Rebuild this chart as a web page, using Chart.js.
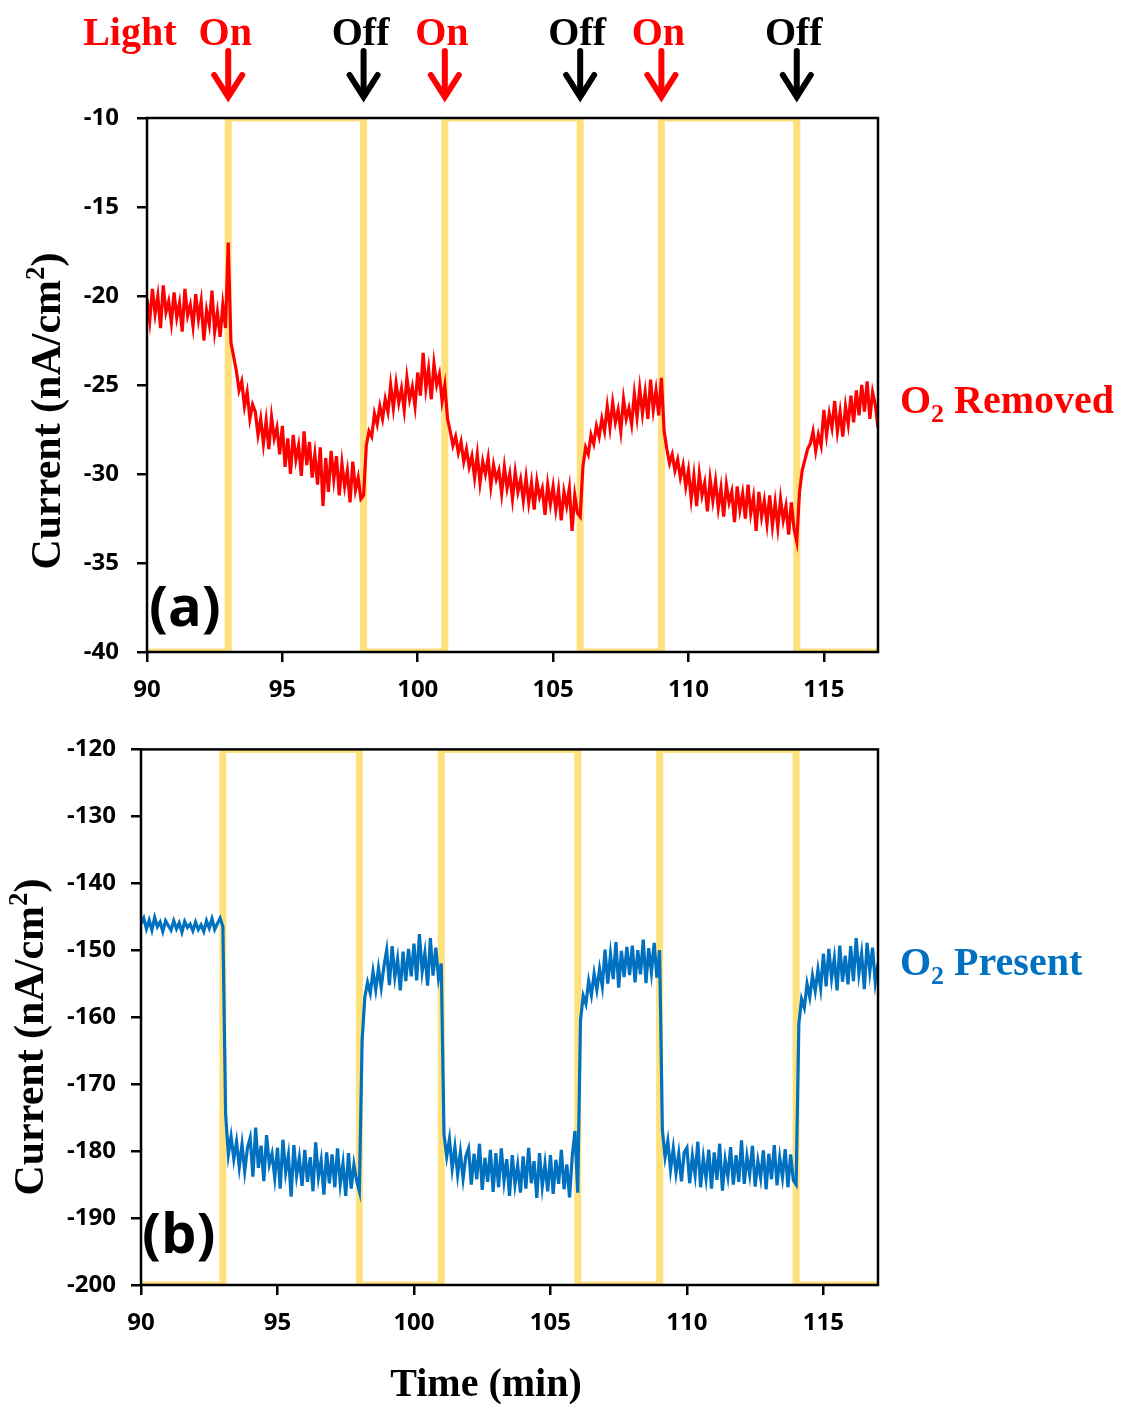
<!DOCTYPE html>
<html>
<head>
<meta charset="utf-8">
<title>Photocurrent - light on/off</title>
<script src="https://cdn.jsdelivr.net/npm/chart.js@4.4.1/dist/chart.umd.min.js"></script>
<style>
  html, body { margin: 0; padding: 0; background: #fff; }
  #wrap { position: relative; width: 1126px; height: 1404px; overflow: hidden; }
  #chartA { position: absolute; left: 0; top: 0; }
  #chartB { position: absolute; left: 0; top: 720px; }
</style>
</head>
<body>
<div id="wrap">
  <canvas id="chartA" width="1126" height="720"></canvas>
  <canvas id="chartB" width="1126" height="684"></canvas>
</div>
<script>
// ==================== DATA ====================
// current sampled every 0.1 min from 90 to 117 min (nA/cm2)
const redCurrent = [
  -20.2, -21.4, -19.6, -21.0, -20.0, -21.8, -19.4, -20.9, -20.3, -21.5,
  -19.8, -21.2, -20.4, -22.0, -19.6, -21.1, -20.5, -21.7, -19.9, -21.3,
  -20.3, -22.5, -20.8, -21.6, -19.7, -22.0, -20.9, -22.3, -20.5, -21.8,
  -17.0, -22.6, -23.4, -24.2, -25.3, -24.8, -26.2, -25.4, -26.9, -26.1,
  -26.5, -27.8, -26.9, -28.3, -27.0, -28.6, -26.8, -28.0, -27.4, -28.9,
  -27.3, -29.6, -28.0, -30.0, -27.8, -29.2, -28.4, -30.1, -27.6, -29.5,
  -28.2, -30.2, -28.9, -30.6, -28.5, -31.8, -29.1, -31.0, -28.7, -30.3,
  -29.0, -31.2, -29.4, -30.7, -29.8, -31.6, -29.3, -30.9, -30.2, -31.4,
  -31.2, -28.4, -27.6, -27.9, -26.6, -27.2, -26.2, -26.9, -25.8, -26.5,
  -25.0, -26.3, -24.9, -26.0, -25.2, -26.4, -24.6, -25.8, -25.1, -26.2,
  -24.3, -25.6, -23.2, -25.2, -24.1, -25.8, -23.8, -25.0, -24.4, -25.9,
  -25.0, -26.9, -27.6, -28.4, -27.9, -28.8, -28.2, -29.3, -28.6, -29.6,
  -29.0, -30.2, -28.9, -30.5, -29.3, -30.0, -29.1, -30.7, -29.5, -30.3,
  -29.8, -31.1, -29.6, -30.8, -30.0, -31.4, -29.9, -31.0, -30.3, -31.5,
  -30.2, -31.6, -30.5, -32.0, -30.4, -31.3, -30.8, -32.3, -30.6, -31.7,
  -30.7, -32.0, -30.9, -32.6, -31.0, -31.8, -30.8, -33.2, -31.2, -32.2,
  -32.4, -29.6, -28.5, -28.9, -27.8, -28.3, -27.3, -27.9, -26.9, -27.6,
  -26.2, -27.4, -26.0, -27.1, -26.4, -27.6, -25.8, -26.9, -26.3, -27.2,
  -25.5, -26.8, -25.2, -26.6, -25.4, -26.9, -24.7, -26.4, -25.3, -26.7,
  -24.6, -27.6, -28.6, -29.4, -28.9, -29.8, -29.2, -30.2, -29.5, -30.7,
  -29.8, -31.4, -30.1, -31.8, -30.0, -31.2, -30.5, -32.1, -30.3, -31.5,
  -30.4, -31.9, -30.8, -32.4, -30.6, -31.6, -31.0, -32.7, -30.7, -32.0,
  -31.1, -32.5, -30.6, -32.2, -31.3, -33.2, -31.0, -32.4, -31.5, -32.8,
  -31.2, -32.9, -31.6, -33.0, -31.4, -32.6, -31.8, -33.4, -31.6, -33.1,
  -33.8, -31.0, -29.8, -29.2, -28.6, -28.3, -27.6, -28.7, -27.8, -28.4,
  -26.4, -27.8, -26.6, -27.4, -25.9, -27.6, -26.5, -27.9, -26.2, -27.2,
  -25.6, -27.1, -25.3, -26.7, -25.0, -26.5, -24.8, -26.9, -25.4, -26.1,
  -27.4
];

const blueCurrent = [
  -146.0, -145.2, -146.8, -145.5, -147.0, -145.1, -146.5, -145.8, -147.2, -145.6,
  -146.3, -147.0, -145.6, -146.8, -145.9, -147.3, -145.7, -146.6, -146.1, -147.1,
  -145.8, -146.9, -146.2, -147.2, -145.6, -146.7, -145.3, -146.9, -146.0, -145.2,
  -146.5, -174.5, -180.5, -177.8, -181.2, -178.6, -182.4, -179.0, -183.0, -179.5,
  -178.0, -183.8, -176.5, -182.5, -179.2, -184.5, -177.6, -182.0, -180.4, -184.0,
  -179.5, -185.6, -178.3, -183.2, -180.6, -186.8, -179.1, -183.7, -181.0, -185.2,
  -179.8, -184.6, -180.9, -186.0, -178.7, -183.9, -181.4, -186.5, -180.2, -184.8,
  -180.5, -185.4, -179.6, -184.9, -181.8, -186.7, -180.3, -185.6, -182.0, -184.4,
  -186.0, -163.5, -157.0, -154.8, -156.4, -153.2, -155.9, -152.7, -155.6, -152.4,
  -150.0, -155.2, -149.4, -154.0, -151.3, -156.0, -150.2, -154.6, -149.8, -153.9,
  -149.0, -154.5, -147.6, -153.2, -150.4, -155.3, -148.2, -153.8, -149.6, -154.2,
  -152.0, -177.5, -180.8, -178.2, -182.6, -179.4, -183.5, -180.2, -184.1, -180.8,
  -179.6, -185.0, -180.4, -184.2, -178.9, -185.8, -181.0, -184.6, -179.8, -186.1,
  -180.3, -185.4, -179.6, -184.5, -181.2, -186.7, -180.6, -185.0, -182.1, -186.2,
  -180.8, -185.6, -179.5, -184.8, -181.5, -187.0, -180.3, -185.3, -181.9, -186.0,
  -180.6, -186.4, -181.3, -184.9, -179.8, -185.7, -182.0, -186.9, -180.7, -177.0,
  -186.2, -160.5, -156.8, -158.0, -154.6, -156.7, -153.5, -155.9, -152.8, -155.4,
  -149.9, -155.0, -150.6, -154.3, -148.8, -155.6, -150.1, -154.0, -149.5, -153.7,
  -149.3, -154.8, -150.0, -153.6, -148.4, -154.9, -149.7, -153.3, -148.9, -154.1,
  -150.0, -176.8, -180.9, -178.5, -182.8, -179.6, -183.3, -180.4, -184.5, -180.2,
  -179.5, -184.8, -180.7, -183.6, -178.6, -185.4, -181.0, -184.1, -179.8, -185.6,
  -180.2, -184.3, -178.9, -185.9, -181.3, -183.8, -179.4, -185.0, -180.6, -184.6,
  -178.4, -184.9, -180.8, -183.5, -179.2, -185.3, -181.5, -184.0, -179.9, -185.7,
  -180.4, -184.2, -179.1, -185.1, -181.0, -183.9, -179.7, -185.4, -180.5, -184.4,
  -185.0, -161.0, -157.3, -158.6, -155.0, -157.0, -153.8, -156.1, -152.9, -155.7,
  -150.5, -155.4, -149.8, -154.2, -151.2, -156.0, -149.3, -154.7, -150.8, -155.1,
  -149.4, -154.6, -148.2, -153.5, -150.5, -155.8, -148.9, -153.2, -149.6, -154.8,
  -152.0
];

const timeStart = 90, timeEnd = 117, timeStep = 0.1;
const timeTicks = [90, 95, 100, 105, 110, 115];
const aTicks = [-40, -35, -30, -25, -20, -15, -10];
const bTicks = [-200, -190, -180, -170, -160, -150, -140, -130, -120];

// light switching (min) and what happens there
const lightSwitchTimes = [93, 98, 101, 106, 109, 114];
const lightLabels = ["On", "Off", "On", "Off", "On", "Off"];

// ==================== STYLE ====================
const SERIF = '"Liberation Serif", "Times New Roman", serif';
const SANS = '"Open Sans", "Noto Sans", sans-serif';
const RED = "#FF0000", BLUE = "#0070C0", LIGHT = "#FFE17C";

const time = redCurrent.map((_, i) => Math.round((timeStart + i * timeStep) * 10) / 10);

const lightWave = (onLevel, offLevel) => {
  let level = offLevel;
  const pts = [{ x: timeStart, y: level }];
  lightSwitchTimes.forEach((t, i) => {
    pts.push({ x: t, y: level });
    level = lightLabels[i] === "On" ? onLevel : offLevel;
    pts.push({ x: t, y: level });
  });
  pts.push({ x: timeEnd, y: level });
  return pts;
};

// draws text pieces one after the other (for sub / superscripts)
const drawRuns = (ctx, runs, x, y, align) => {
  let total = 0;
  runs.forEach(r => { ctx.font = r.font; total += ctx.measureText(r.text).width; });
  let cx = align === "center" ? x - total / 2 : align === "right" ? x - total : x;
  ctx.textAlign = "left";
  ctx.textBaseline = "alphabetic";
  runs.forEach(r => {
    ctx.font = r.font;
    ctx.fillText(r.text, cx, y + (r.dy || 0));
    cx += ctx.measureText(r.text).width;
  });
  return total;
};

const yTitleRuns = [
  { text: "Current (nA/cm", font: `bold 42px ${SERIF}` },
  { text: "2", font: `bold 27px ${SERIF}`, dy: -16 },
  { text: ")", font: `bold 42px ${SERIF}` }
];

const drawYTitle = (ctx, x, y) => {
  ctx.save();
  ctx.translate(x, y);
  ctx.rotate(-Math.PI / 2);
  ctx.fillStyle = "#000";
  drawRuns(ctx, yTitleRuns, 0, 0, "center");
  ctx.restore();
};

const o2Runs = (word) => [
  { text: "O", font: `bold 40px ${SERIF}` },
  { text: "2", font: `bold 26px ${SERIF}`, dy: 9 },
  { text: " " + word, font: `bold 40px ${SERIF}` }
];

// ==================== PLUGINS ====================
const framePlugin = {
  id: "frame",
  afterDatasetsDraw(chart) {
    const { ctx, chartArea: a } = chart;
    ctx.save();
    ctx.strokeStyle = "#000";
    ctx.lineWidth = 2.5;
    ctx.strokeRect(a.left, a.top, a.right - a.left, a.bottom - a.top);
    ctx.restore();
  }
};

const annotateA = {
  id: "annotateA",
  afterDraw(chart) {
    const { ctx } = chart;
    const xs = chart.scales.x;
    ctx.save();

    lightSwitchTimes.forEach((t, i) => {
      const x = xs.getPixelForValue(t);
      const color = lightLabels[i] === "On" ? RED : "#000";
      ctx.strokeStyle = color;
      ctx.fillStyle = color;
      ctx.lineWidth = 6;
      ctx.lineCap = "round";
      ctx.beginPath();
      ctx.moveTo(x, 51);
      ctx.lineTo(x, 94);
      ctx.stroke();
      ctx.lineJoin = "miter";
      ctx.beginPath();
      ctx.moveTo(x - 14, 75);
      ctx.lineTo(x, 97);
      ctx.lineTo(x + 14, 75);
      ctx.stroke();

      const w = drawRuns(ctx, [{ text: lightLabels[i], font: `bold 40px ${SERIF}` }], x - 3, 45, "center");
      if (i === 0) {
        ctx.fillStyle = RED;
        drawRuns(ctx, [{ text: "Light", font: `bold 40px ${SERIF}` }], x - 3 - w / 2 - 22, 45, "right");
      }
    });

    ctx.fillStyle = "#000";
    ctx.font = `bold 56px ${SANS}`;
    ctx.textAlign = "left";
    ctx.fillText("(a)", 149, 626);

    ctx.fillStyle = RED;
    drawRuns(ctx, o2Runs("Removed"), 900, 413, "left");

    drawYTitle(ctx, 60, 411);
    ctx.restore();
  }
};

const annotateB = {
  id: "annotateB",
  afterDraw(chart) {
    const { ctx } = chart;
    ctx.save();
    ctx.fillStyle = "#000";
    ctx.font = `bold 56px ${SANS}`;
    ctx.textAlign = "left";
    ctx.fillText("(b)", 142, 533);

    ctx.fillStyle = BLUE;
    drawRuns(ctx, o2Runs("Present"), 900, 255, "left");

    ctx.fillStyle = "#000";
    drawYTitle(ctx, 43, 317);
    drawRuns(ctx, [{ text: "Time (min)", font: `bold 40px ${SERIF}` }], 486, 676, "center");
    ctx.restore();
  }
};

// ==================== CHARTS ====================
const tickFont = { family: SANS, size: 24, weight: "bold" };

function makeChart(id, p) {
  return new Chart(document.getElementById(id), {
    type: "line",
    data: {
      datasets: [
        {
          data: p.values.map((v, i) => ({ x: time[i], y: v })),
          borderColor: p.color, borderWidth: 3.2, pointRadius: 0, tension: 0, order: 0
        },
        {
          data: lightWave(p.yMax, p.yMin),
          borderColor: LIGHT, borderWidth: 7, pointRadius: 0, tension: 0,
          borderJoinStyle: "miter", clip: 0, order: 1
        }
      ]
    },
    options: {
      responsive: false,
      animation: false,
      events: [],
      layout: { padding: p.padding },
      plugins: { legend: { display: false }, tooltip: { enabled: false } },
      scales: {
        x: {
          type: "linear", min: timeStart, max: timeEnd,
          afterBuildTicks: s => { s.ticks = timeTicks.map(v => ({ value: v })); },
          afterFit: s => { s.height = p.xAxisHeight; },
          grid: { drawOnChartArea: false, drawTicks: true, tickLength: 10, color: "#000", lineWidth: 2.5 },
          border: { display: false },
          ticks: { color: "#000", font: tickFont, padding: p.xPad, maxRotation: 0, autoSkip: false }
        },
        y: {
          type: "linear", min: p.yMin, max: p.yMax,
          afterBuildTicks: s => { s.ticks = p.yTicks.map(v => ({ value: v })); },
          afterFit: s => { s.width = p.yAxisWidth; },
          grid: { drawOnChartArea: false, drawTicks: true, tickLength: 10, color: "#000", lineWidth: 2.5 },
          border: { display: false },
          ticks: { color: "#000", font: tickFont, padding: p.yPad, autoSkip: false }
        }
      }
    },
    plugins: [framePlugin, p.annotate]
  });
}

makeChart("chartA", {
  values: redCurrent, color: RED, yMin: -40, yMax: -10, yTicks: aTicks,
  padding: { top: 118, right: 248, bottom: 10, left: 0 },
  yAxisWidth: 147, xAxisHeight: 58, xPad: 14, yPad: 18, annotate: annotateA
});

makeChart("chartB", {
  values: blueCurrent, color: BLUE, yMin: -200, yMax: -120, yTicks: bTicks,
  padding: { top: 26, right: 248, bottom: 59, left: 0 },
  yAxisWidth: 141, xAxisHeight: 60, xPad: 14, yPad: 15, annotate: annotateB
});
</script>
</body>
</html>
